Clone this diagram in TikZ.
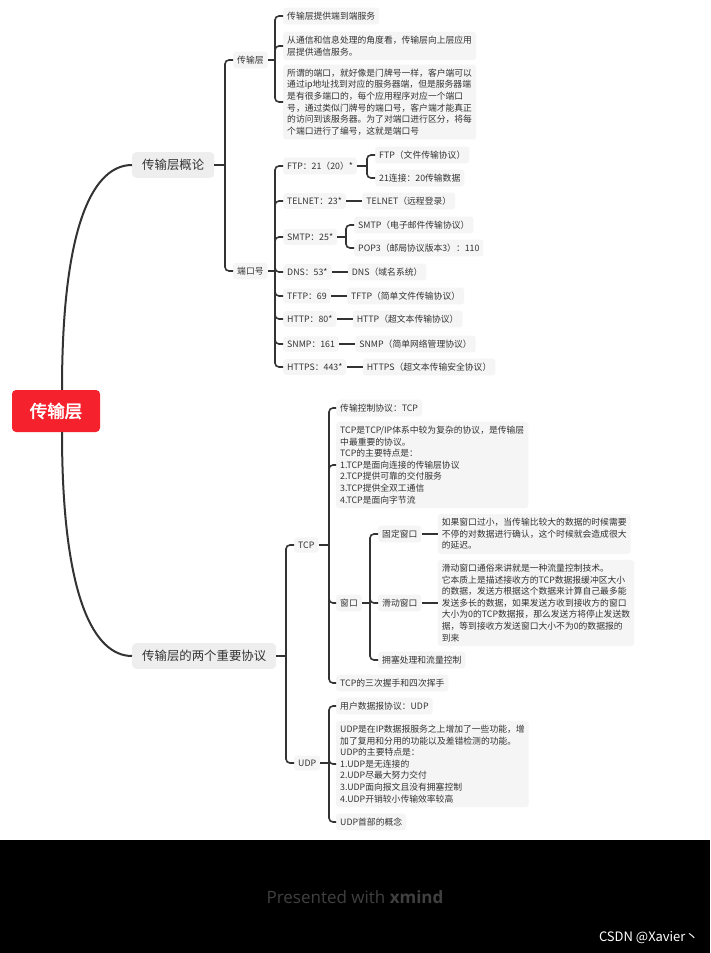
\documentclass[tikz,border=0pt]{standalone}
\usepackage{fontspec}
\setmainfont{Noto Sans CJK SC}
\newfontfamily\rootfont{Noto Sans CJK SC}[FakeBold=2.5]
\newfontfamily\latinsans{Open Sans}
\usetikzlibrary{calc}
\definecolor{txt}{HTML}{333333}
\definecolor{boxg}{HTML}{F5F5F5}
\definecolor{boxm}{HTML}{EEEEEE}
\definecolor{rootred}{HTML}{F5222D}
\definecolor{linec}{HTML}{333333}
\definecolor{footgray}{HTML}{404040}
\begin{document}
\begin{tikzpicture}[x=1pt,y=-1pt,
  topic/.style={anchor=west, fill=boxg, rounded corners=3pt, text=txt, inner xsep=4pt, inner ysep=4.2pt, font=\fontsize{8.8}{11.6}\selectfont, align=left},
  maintopic/.style={anchor=west, fill=boxm, rounded corners=4pt, text=txt, inner xsep=10pt, inner ysep=7pt, font=\fontsize{12.4}{14}\selectfont},
  rootnode/.style={fill=rootred, rounded corners=4pt, text=white, minimum width=88pt, minimum height=42pt, font=\rootfont\fontsize{17.5}{20}\selectfont},
  conn/.style={draw=linec, line width=1.6pt, rounded corners=4pt},
  curve/.style={draw=linec, line width=2pt},
  ]
\useasboundingbox (0,0) rectangle (710,953);
\fill[white] (0,0) rectangle (710,840);
\fill[black] (0,840) rectangle (710,953);

% root and main topics
\node[rootnode] (root) at (56,411) {传输层};
\node[maintopic] (gl) at (132,165) {传输层概论};
\node[maintopic] (xy) at (132,656) {传输层的两个重要协议};
\draw[curve] ([xshift=6pt]root.north) .. controls (62,220) and (95,165) .. (gl.west);
\draw[curve] ([xshift=6pt]root.south) .. controls (62,600) and (95,656) .. (xy.west);

% ---- 传输层概论
\node[topic] (csc) at (233,60) {传输层};
\node[topic] (dkh) at (233,271) {端口号};
\coordinate (gj) at ($(csc.west |- gl.east)+(-8,0)$);
\draw[conn] (gl.east) -- (gj);
\draw[conn] (gj) |- (csc.west);
\draw[conn] (gj) |- (dkh.west);

\node[topic] (a1) at (283,16) {传输层提供端到端服务};
\node[topic] (a2) at (283,46) {从通信和信息处理的角度看，传输层向上层应用\\层提供通信服务。};
\node[topic] (a3) at (283,102) {所谓的端口，就好像是门牌号一样，客户端可以\\通过ip地址找到对应的服务器端，但是服务器端\\是有很多端口的，每个应用程序对应一个端口\\号，通过类似门牌号的端口号，客户端才能真正\\的访问到该服务器。为了对端口进行区分，将每\\个端口进行了编号，这就是端口号};
\coordinate (cj) at ($(a1.west |- csc.east)+(-8,0)$);
\draw[conn] (csc.east) -- (cj);
\foreach \c in {a1,a2,a3} \draw[conn] (cj) |- (\c.west);

% ports
\node[topic] (ftp) at (283,166) {FTP：21（20）*};
\node[topic] (telnet) at (283,201) {TELNET：23*};
\node[topic] (smtp) at (283,237) {SMTP：25*};
\node[topic] (dns) at (283,272) {DNS：53*};
\node[topic] (tftp) at (283,296) {TFTP：69};
\node[topic] (http) at (283,319) {HTTP：80*};
\node[topic] (snmp) at (283,344) {SNMP：161};
\node[topic] (https) at (283,367) {HTTPS：443*};
\coordinate (dj) at ($(ftp.west |- dkh.east)+(-8,0)$);
\draw[conn] (dkh.east) -- (dj);
\foreach \c in {ftp,telnet,smtp,dns,tftp,http,snmp,https} \draw[conn] (dj) |- (\c.west);

\node[topic] (ftp1) at (375,155) {FTP（文件传输协议）};
\node[topic] (ftp2) at (375,178) {21连接：20传输数据};
\coordinate (fj) at ($(ftp1.west |- ftp.east)+(-8,0)$);
\draw[conn] (ftp.east) -- (fj);
\foreach \c in {ftp1,ftp2} \draw[conn] (fj) |- (\c.west);

\node[topic] (telnetd) at ([xshift=16pt]telnet.east) {TELNET（远程登录）};
\draw[conn] (telnet.east) -- (telnetd.west);

\node[topic] (smtp1) at (354,225) {SMTP（电子邮件传输协议）};
\node[topic] (smtp2) at (354,248) {POP3（邮局协议版本3）：110};
\coordinate (sj) at ($(smtp1.west |- smtp.east)+(-8,0)$);
\draw[conn] (smtp.east) -- (sj);
\foreach \c in {smtp1,smtp2} \draw[conn] (sj) |- (\c.west);

\node[topic] (dnsd) at ([xshift=16pt]dns.east) {DNS（域名系统）};
\draw[conn] (dns.east) -- (dnsd.west);
\node[topic] (tftpd) at ([xshift=16pt]tftp.east) {TFTP（简单文件传输协议）};
\draw[conn] (tftp.east) -- (tftpd.west);
\node[topic] (httpd) at ([xshift=16pt]http.east) {HTTP（超文本传输协议）};
\draw[conn] (http.east) -- (httpd.west);
\node[topic] (snmpd) at ([xshift=16pt]snmp.east) {SNMP（简单网络管理协议）};
\draw[conn] (snmp.east) -- (snmpd.west);
\node[topic] (httpsd) at ([xshift=16pt]https.east) {HTTPS（超文本传输安全协议）};
\draw[conn] (https.east) -- (httpsd.west);

% ---- 传输层的两个重要协议
\node[topic] (tcp) at (294,545) {TCP};
\node[topic] (udp) at (294,763) {UDP};
\coordinate (xj) at ($(tcp.west |- xy.east)+(-8,0)$);
\draw[conn] (xy.east) -- (xj);
\foreach \c in {tcp,udp} \draw[conn] (xj) |- (\c.west);

\node[topic] (t1) at (336,408) {传输控制协议：TCP};
\node[topic] (t2) at (336,465) {TCP是TCP/IP体系中较为复杂的协议，是传输层\\中最重要的协议。\\TCP的主要特点是：\\1.TCP是面向连接的传输层协议\\2.TCP提供可靠的交付服务\\3.TCP提供全双工通信\\4.TCP是面向字节流};
\node[topic] (win) at (336,603) {窗口};
\node[topic] (t4) at (336,683) {TCP的三次握手和四次挥手};
\coordinate (tj) at ($(t1.west |- tcp.east)+(-7,0)$);
\draw[conn] (tcp.east) -- (tj);
\foreach \c in {t1,t2,win,t4} \draw[conn] (tj) |- (\c.west);

\node[topic] (fixw) at (378,534) {固定窗口};
\node[topic] (slw) at (378,603) {滑动窗口};
\node[topic] (cong) at (378,660) {拥塞处理和流量控制};
\coordinate (wj) at ($(fixw.west |- win.east)+(-8,0)$);
\draw[conn] (win.east) -- (wj);
\foreach \c in {fixw,slw,cong} \draw[conn] (wj) |- (\c.west);

\node[topic] (fixwd) at ([xshift=16pt]fixw.east) {如果窗口过小，当传输比较大的数据的时候需要\\不停的对数据进行确认，这个时候就会造成很大\\的延迟。};
\draw[conn] (fixw.east) -- (fixwd.west);
\node[topic] (slwd) at ([xshift=16pt]slw.east) {滑动窗口通俗来讲就是一种流量控制技术。\\它本质上是描述接收方的TCP数据报缓冲区大小\\的数据，发送方根据这个数据来计算自己最多能\\发送多长的数据，如果发送方收到接收方的窗口\\大小为0的TCP数据报，那么发送方将停止发送数\\据，等到接收方发送窗口大小不为0的数据报的\\到来};
\draw[conn] (slw.east) -- (slwd.west);

\node[topic] (u1) at (336,706) {用户数据报协议：UDP};
\node[topic] (u2) at (336,764) {UDP是在IP数据报服务之上增加了一些功能，增\\加了复用和分用的功能以及差错检测的功能。\\UDP的主要特点是：\\1.UDP是无连接的\\2.UDP尽最大努力交付\\3.UDP面向报文且没有拥塞控制\\4.UDP开销较小传输效率较高};
\node[topic] (u3) at (336,822) {UDP首部的概念};
\coordinate (uj) at ($(u1.west |- udp.east)+(-7,0)$);
\draw[conn] (udp.east) -- (uj);
\foreach \c in {u1,u2,u3} \draw[conn] (uj) |- (\c.west);

% footer
\node[font=\latinsans\fontsize{17}{19}\selectfont, text=footgray] (pw) at (355,897) {Presented with \textbf{xmind}};
\node[font=\fontsize{13}{15}\selectfont, text=white, anchor=east] (csdn) at (702,938) {CSDN @Xavier丶};
\end{tikzpicture}
\end{document}
